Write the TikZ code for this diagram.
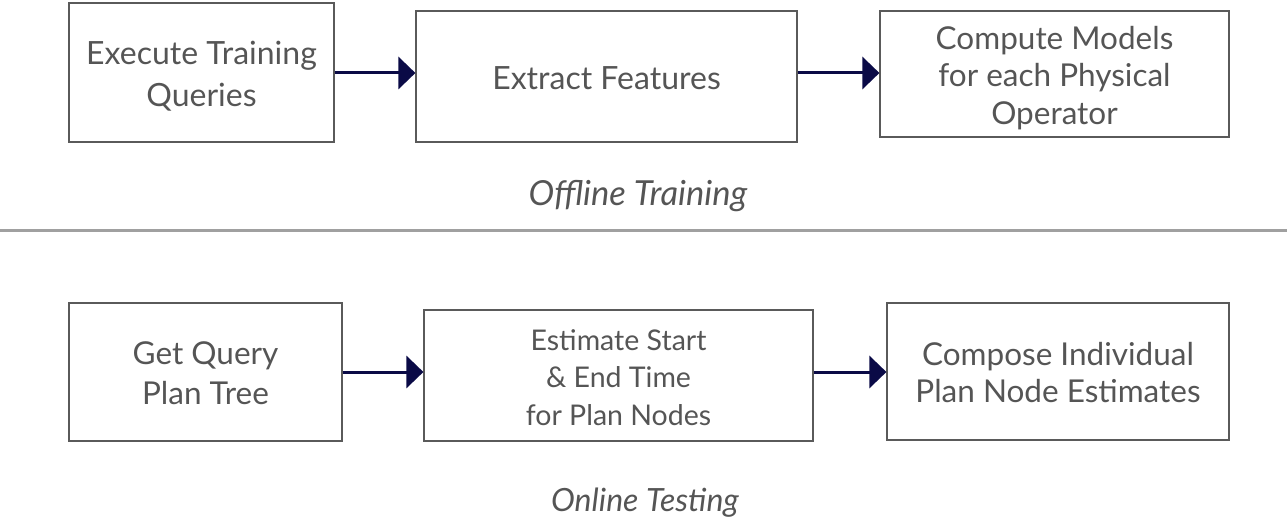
\documentclass[tikz,border=0pt]{standalone}
\usepackage{fontspec}
\setmainfont{Lato}
\usetikzlibrary{arrows.meta}
\definecolor{txt}{RGB}{85,85,85}
\definecolor{boxc}{RGB}{90,90,90}
\definecolor{navy}{RGB}{10,10,70}
\definecolor{sep}{RGB}{160,160,160}
\tikzset{
  box/.style={draw=boxc, line width=1.2pt, inner sep=0pt},
  boxtext/.style={inner sep=0pt, align=center, text=txt, font=\fontsize{32}{42}\selectfont},
  flow/.style={draw=navy, line width=3pt, -{Triangle[length=17pt,width=32pt]}},
  caption/.style={text=txt, font=\fontsize{33}{40}\selectfont\itshape}
}
\begin{document}
\begin{tikzpicture}[x=1pt,y=-1pt]
\useasboundingbox (0,0) rectangle (1287,518);
% top row
\node[box, minimum width=265pt, minimum height=139pt] (a) at (201.5,72.5) {};
\node[boxtext] (at) at ([yshift=-4pt]a.center) {Execute Training\\Queries};
\node[box, minimum width=381pt, minimum height=131pt] (b) at (606.5,76.5) {};
\node[boxtext] (bt) at ([yshift=-2pt]b.center) {Extract Features};
\node[box, minimum width=349pt, minimum height=126pt] (c) at (1054.5,74) {};
\node[boxtext, font=\fontsize{31.5}{37.5}\selectfont] (ct) at ([yshift=-4pt]c.center) {Compute Models\\for each Physical\\Operator};
\draw[flow] (a.east |- 0,73) -- (b.west |- 0,73);
\draw[flow] (b.east |- 0,73) -- (c.west |- 0,73);
\node[caption, font=\fontsize{34.5}{40}\selectfont\itshape] (t1) at (638,196) {Offline Training};
% separator
\coordinate (s1) at (0,230.5);
\coordinate (s2) at (1287,230.5);
\draw[sep, line width=3.5pt] (s1) -- (s2);
% bottom row
\node[box, minimum width=273pt, minimum height=138pt] (d) at (205.5,372) {};
\node[boxtext, font=\fontsize{31.5}{40}\selectfont] (dt) at ([yshift=-1pt]d.center) {Get Query\\Plan Tree};
\node[box, minimum width=389pt, minimum height=131pt] (e) at (618.5,375.5) {};
\node[boxtext, font=\fontsize{28.5}{37.5}\selectfont] (et) at ([yshift=-2pt]e.center) {Estimate Start\\\& End Time\\for Plan Nodes};
\node[box, minimum width=342pt, minimum height=137pt] (f) at (1058,371.5) {};
\node[boxtext, font=\fontsize{31.5}{37}\selectfont] (ft) at ([yshift=-1pt]f.center) {Compose Individual\\Plan Node Estimates};
\draw[flow] (d.east |- 0,372) -- (e.west |- 0,372);
\draw[flow] (e.east |- 0,372) -- (f.west |- 0,372);
\node[caption, font=\fontsize{32}{40}\selectfont\itshape] (t2) at (645,503) {Online Testing};
\end{tikzpicture}
\end{document}
